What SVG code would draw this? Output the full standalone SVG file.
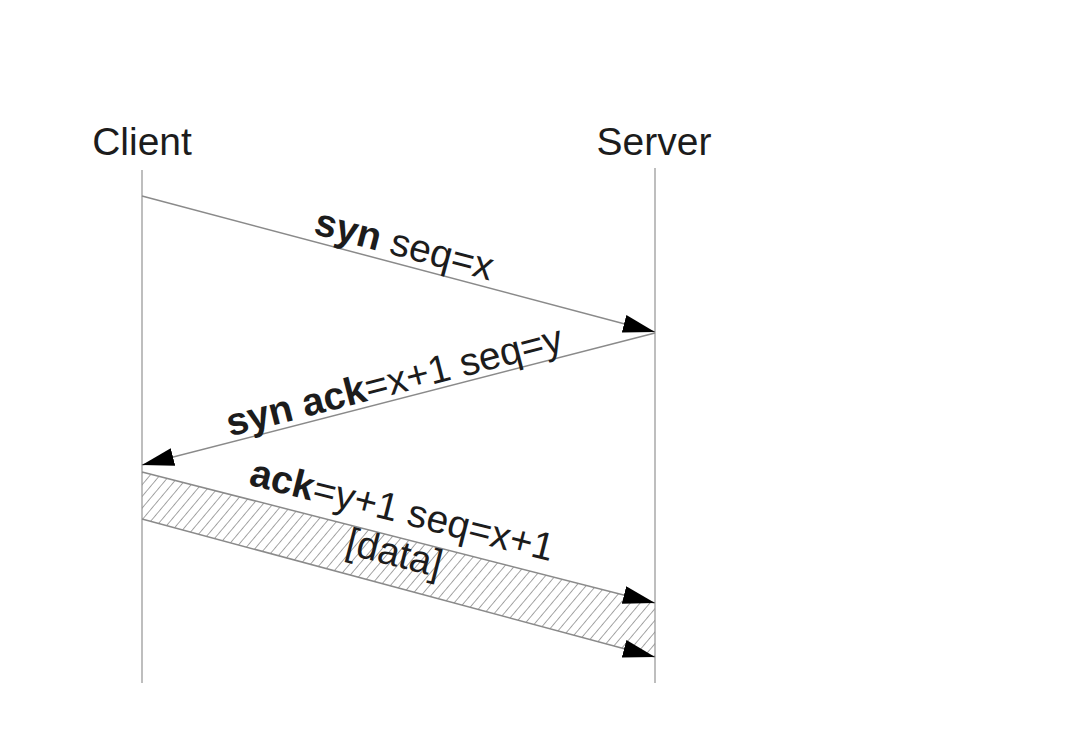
<svg xmlns="http://www.w3.org/2000/svg" width="1071" height="729" viewBox="0 0 1071 729">
  <style>
    text { font-family: "Liberation Sans", Arial, sans-serif; font-size: 39px; fill: #1c1c1c; }
    .b { font-weight: bold; }
    .life { stroke: #a8a8a8; stroke-width: 1.5; fill: none; }
    .msg { stroke: #8a8a8a; stroke-width: 1.5; fill: none; }
  </style>
  <defs>
    <marker id="head" markerUnits="userSpaceOnUse" markerWidth="34" markerHeight="20" refX="32" refY="9" orient="auto">
      <path d="M0,0 L32,9 L0,18 z" fill="#000"/>
    </marker>
    <pattern id="hatch" width="7.5" height="7.5" patternUnits="userSpaceOnUse" patternTransform="rotate(40)">
      <line x1="0" y1="-1" x2="0" y2="9" stroke="#8f8f8f" stroke-width="1.6"/>
    </pattern>
  </defs>
  <rect width="1071" height="729" fill="#fff"/>

  <g id="client">
    <text x="142" y="155" text-anchor="middle">Client</text>
    <line class="life" x1="142" y1="170" x2="142" y2="683"/>
  </g>
  <g id="server">
    <text x="654" y="155" text-anchor="middle">Server</text>
    <line class="life" x1="655" y1="168" x2="655" y2="683"/>
  </g>

  <g id="connectors">
    <line class="msg" x1="142" y1="196" x2="655" y2="332" marker-end="url(#head)"/>
    <text transform="translate(401,257) rotate(14.8)" text-anchor="middle"><tspan class="b">syn</tspan> seq=x</text>

    <line class="msg" x1="655" y1="333" x2="142" y2="465" marker-end="url(#head)"/>
    <text transform="translate(397.5,393.5) rotate(-14.4)" text-anchor="middle"><tspan class="b">syn ack</tspan>=x+1 seq=y</text>

    <polygon points="142,472 655,603 655,657 142,519" fill="url(#hatch)" stroke="none"/>
    <line class="msg" x1="142" y1="472" x2="655" y2="603" marker-end="url(#head)"/>
    <line class="msg" x1="142" y1="519" x2="655" y2="657" marker-end="url(#head)"/>
    <text transform="translate(399,523) rotate(14.25)" text-anchor="middle"><tspan class="b">ack</tspan>=y+1 seq=x+1<tspan x="3" y="43">[data]</tspan></text>
  </g>
</svg>
